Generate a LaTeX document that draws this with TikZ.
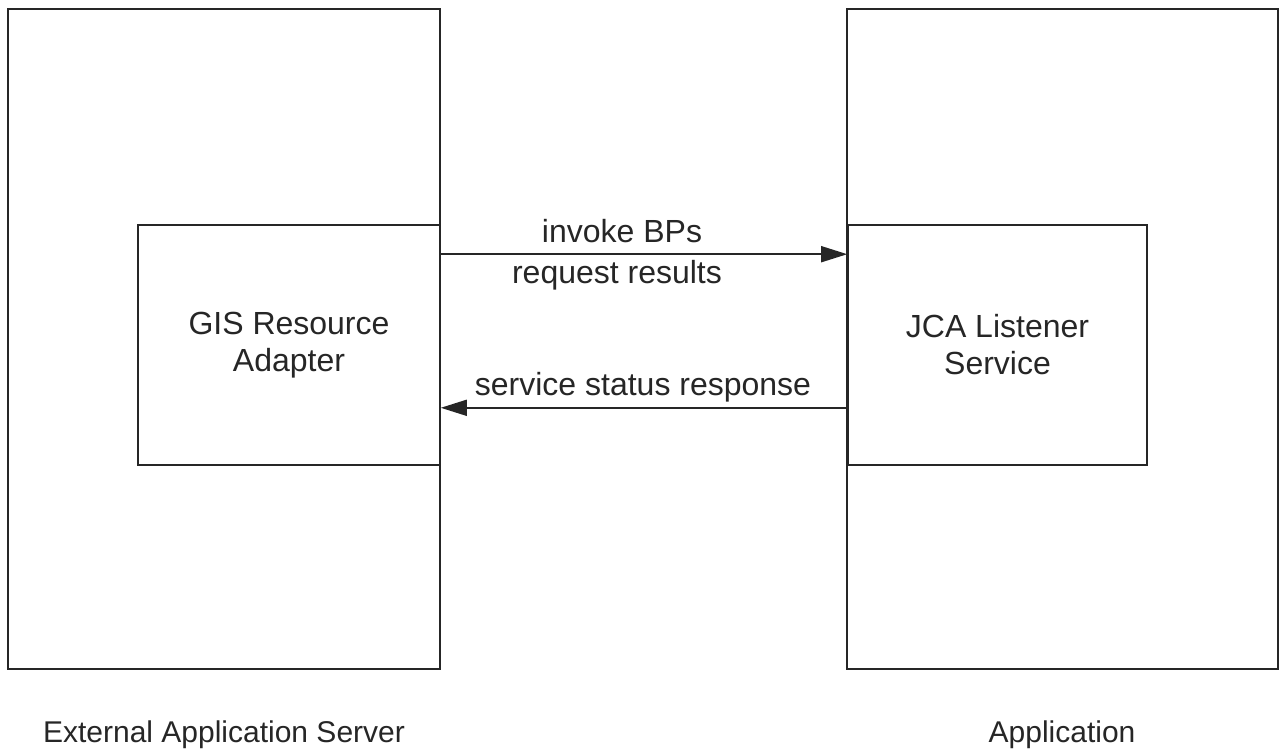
\documentclass[tikz,border=0pt]{standalone}
\usepackage{fontspec}
\setmainfont{Liberation Sans}
\usetikzlibrary{arrows.meta}
\begin{document}
\begin{tikzpicture}[x=1pt,y=-1pt,
  box/.style={draw=black!85, line width=1.6pt, rectangle, inner sep=0pt},
  lbl/.style={font=\fontsize{32}{37}\selectfont, text=black!85, align=center, inner sep=0pt},
  txt/.style={font=\fontsize{32}{37}\selectfont, text=black!85, inner sep=0pt, anchor=base},
  btxt/.style={font=\fontsize{30}{37}\selectfont, text=black!85, inner sep=0pt, anchor=base},
  arr/.style={draw=black!85, line width=1.6pt, -{Triangle[length=26pt,width=16pt]}}]
\useasboundingbox (0,0) rectangle (1281,749);
% outer boxes
\node[box, minimum width=432pt, minimum height=660pt] (ext) at (224,339) {};
\node[box, minimum width=431pt, minimum height=660pt] (app) at (1062.5,339) {};
% inner boxes
\node[box, minimum width=302pt, minimum height=240pt, lbl] (gis) at (289,345) {GIS Resource\\Adapter};
\node[box, minimum width=299pt, minimum height=240pt, lbl] (jca) at (997.5,345) {JCA Listener\\Service};
% arrows
\draw[arr] ([yshift=-30pt]gis.north east) -- ([yshift=-30pt]jca.north west);
\draw[arr] ([yshift=58pt]jca.south west) -- ([yshift=58pt]gis.south east);
% arrow labels
\node[txt] (l1) at (622,242) {invoke BPs};
\node[txt] (l2) at (617,283) {request results};
\node[txt] (l3) at (643,395) {service status response};
% bottom labels
\node[btxt] (l4) at (224,742) {External Application Server};
\node[btxt] (l5) at (1062,742) {Application};
\end{tikzpicture}
\end{document}
